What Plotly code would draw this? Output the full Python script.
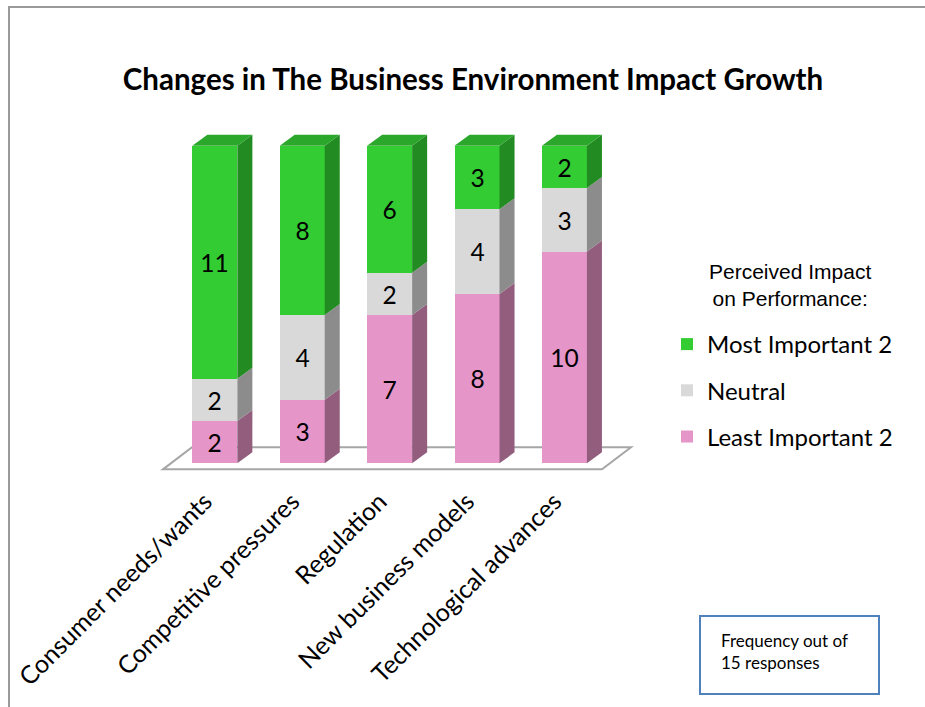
import plotly.graph_objects as go

# ---- data -------------------------------------------------------------
categories = [
    "Consumer needs/wants",
    "Competitive pressures",
    "Regulation",
    "New business models",
    "Technological advances",
]
least_important = [2, 3, 7, 8, 10]
neutral = [2, 4, 2, 4, 3]
most_important = [11, 8, 6, 3, 2]

series_names = ["Least Important 2", "Neutral", "Most Important 2"]
series_values = [least_important, neutral, most_important]
legend_ranks = [3, 2, 1]

# front / side / top shades for each series
front_colors = ["#E695C8", "#D9D9D9", "#33CC33"]
side_colors = ["#935E7E", "#8C8C8C", "#228B22"]
top_colors = ["#BE7BA5", "#B3B3B3", "#2BA72B"]

# ---- geometry of the pseudo-3D look (axis units) ----------------------
W, H = 925, 707
BAR_W = 0.515          # front face width
DEPTH_X = 0.172        # horizontal depth offset
DEPTH_Y = 0.52         # vertical depth offset
FLOOR_X0, FLOOR_X1 = -0.593, 4.43
FLOOR_Y = -0.283
FLOOR_DX, FLOOR_DY = 0.332, 1.04

X_RANGE = [-2.458, 8.126]
Y_RANGE = [-0.789, 21.88]
Y_DOMAIN = [0.321, 1.0]

fig = go.Figure()

# front faces as stacked bars
for name, vals, col, rank in zip(series_names, series_values, front_colors, legend_ranks):
    fig.add_trace(go.Bar(
        x=categories, y=vals, name=name, width=BAR_W,
        marker=dict(color=col, line=dict(width=0)),
        text=vals, textposition="inside", insidetextanchor="middle",
        textangle=0, constraintext="none",
        textfont=dict(family="Lato", size=24.5, color="black"),
        legendgroup=name, legendrank=rank, hoverinfo="x+y+name",
    ))

shapes = []

# floor under the bars
fx0, fx1, fy = FLOOR_X0, FLOOR_X1, FLOOR_Y
shapes.append(dict(
    type="path", xref="x", yref="y", layer="below",
    path=(f"M{fx0},{fy} L{fx1},{fy} L{fx1 + FLOOR_DX},{fy + FLOOR_DY} "
          f"L{fx0 + FLOOR_DX},{fy + FLOOR_DY} Z"),
    fillcolor="white", line=dict(color="#A6A6A6", width=2),
))

# side and top faces from the stacked values
for i in range(len(categories)):
    base = 0
    right = i + BAR_W / 2
    left = i - BAR_W / 2
    for k, vals in enumerate(series_values):
        top = base + vals[i]
        shapes.append(dict(
            type="path", xref="x", yref="y", layer="above",
            path=(f"M{right},{base} L{right + DEPTH_X},{base + DEPTH_Y} "
                  f"L{right + DEPTH_X},{top + DEPTH_Y} L{right},{top} Z"),
            fillcolor=side_colors[k], line=dict(width=0),
        ))
        base = top
    top_k = max(k for k, vals in enumerate(series_values) if vals[i] > 0)
    shapes.append(dict(
        type="path", xref="x", yref="y", layer="above",
        path=(f"M{left},{base} L{right},{base} L{right + DEPTH_X},{base + DEPTH_Y} "
              f"L{left + DEPTH_X},{base + DEPTH_Y} Z"),
        fillcolor=top_colors[top_k], line=dict(width=0),
    ))

# outer frame of the chart area
shapes.append(dict(
    type="rect", xref="paper", yref="paper",
    x0=9 / W, x1=1.05, y0=-0.05, y1=1 - 7 / H,
    line=dict(color="#9A9A9A", width=2), fillcolor="rgba(0,0,0,0)",
))

# note box
shapes.append(dict(
    type="rect", xref="paper", yref="paper",
    x0=700 / W, x1=879 / W, y0=1 - 694 / H, y1=1 - 616 / H,
    line=dict(color="#4F81BD", width=2), fillcolor="white",
))

fig.update_layout(
    width=W, height=H,
    margin=dict(l=0, r=0, t=0, b=0),
    paper_bgcolor="white", plot_bgcolor="rgba(0,0,0,0)",
    barmode="stack", bargap=0,
    shapes=shapes,
    title=dict(
        text="<b>Changes in The Business Environment Impact Growth</b>",
        font=dict(family="Lato", size=29.5, color="black"),
        x=473 / W, xanchor="center", xref="paper",
        y=1 - 80 / H, yanchor="middle", yref="container",
    ),
    xaxis=dict(
        type="category", range=X_RANGE, domain=[0, 1],
        showgrid=False, zeroline=False, showline=False, ticks="",
        tickangle=-45, ticklabelshift=-10, ticklabelstandoff=1,
        tickfont=dict(family="Lato", size=25, color="black"),
        fixedrange=True,
    ),
    yaxis=dict(
        range=Y_RANGE, domain=Y_DOMAIN,
        showgrid=False, zeroline=False, showline=False,
        showticklabels=False, ticks="", fixedrange=True,
    ),
    legend=dict(
        font=dict(family="Lato", size=24, color="black"),
        x=667 / W, xanchor="left",
        y=1 - 322 / H, yanchor="top",
        traceorder="grouped",
        tracegroupgap=12,
        bgcolor="rgba(0,0,0,0)",
    ),
    annotations=[
        dict(
            text="Perceived Impact<br>on Performance:",
            xref="paper", yref="paper",
            x=790 / W, xanchor="center",
            y=1 - 285 / H, yanchor="middle",
            align="center", showarrow=False,
            font=dict(family="Liberation Sans", size=21, color="black"),
        ),
        dict(
            text="Frequency out of<br>15 responses",
            xref="paper", yref="paper",
            x=719 / W, xanchor="left",
            y=1 - 651 / H, yanchor="middle",
            align="left", showarrow=False,
            font=dict(family="Lato", size=17, color="black"),
        ),
    ],
)

fig.write_html("out.html")
